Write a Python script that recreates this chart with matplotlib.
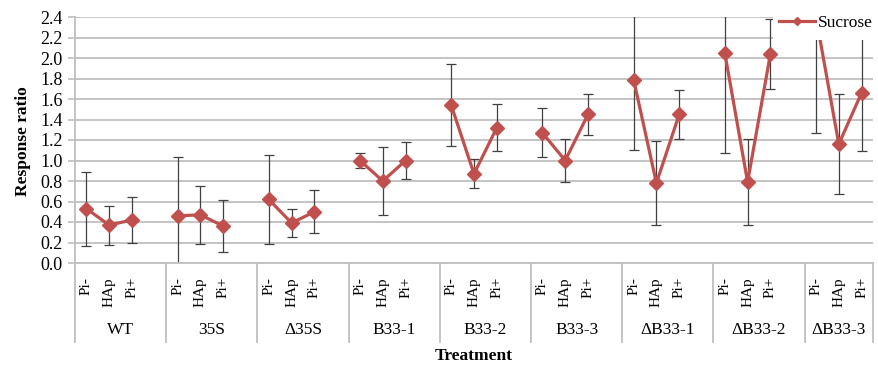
import numpy as np
import matplotlib
matplotlib.use("Agg")
import matplotlib.pyplot as plt
import matplotlib.transforms as mtransforms
from matplotlib.lines import Line2D
from matplotlib.patches import Rectangle

SERIF = "Liberation Serif"
plt.rcParams['font.family'] = SERIF

groups = ["WT", "35S", "Δ35S", "B33-1", "B33-2", "B33-3", "ΔB33-1", "ΔB33-2", "ΔB33-3"]
treatments = ["Pi-", "HAp", "Pi+"]

# response ratio per group (Pi-, HAp, Pi+)
sucrose = [
    [0.53, 0.37, 0.42],
    [0.46, 0.47, 0.36],
    [0.62, 0.39, 0.50],
    [1.00, 0.80, 1.00],
    [1.54, 0.87, 1.32],
    [1.27, 1.00, 1.45],
    [1.79, 0.78, 1.45],
    [2.05, 0.79, 2.04],
    [2.40, 1.16, 1.66],
]
sucrose_err = [
    [0.36, 0.19, 0.22],
    [0.57, 0.28, 0.25],
    [0.43, 0.14, 0.21],
    [0.07, 0.33, 0.18],
    [0.40, 0.14, 0.23],
    [0.24, 0.21, 0.20],
    [0.69, 0.41, 0.24],
    [0.98, 0.42, 0.34],
    [1.13, 0.49, 0.57],
]

red = "#C0504D"
grid_col = "#BFBFBF"

fig = plt.figure(figsize=(8.79, 3.67), dpi=100)
ax = fig.add_axes([75 / 879, 1 - 263 / 367, 798 / 879, 246 / 367])

# every group except the last has an empty slot after it
n_slots = len(groups) * 4 - 1
for g, name in enumerate(groups):
    xs = [g * 4 + j + 0.5 for j in range(len(treatments))]
    ax.errorbar(xs, sucrose[g], yerr=sucrose_err[g], fmt="none", ecolor="#404040",
                elinewidth=0.9, capsize=3.6, capthick=0.9, zorder=2)
    ax.plot(xs, sucrose[g], color=red, lw=2.3, marker="D", ms=7.3, zorder=3)

yt = np.arange(0, 2.41, 0.2)
ax.set_xlim(0, n_slots)
ax.set_ylim(0, 2.4)
ax.set_yticks(yt)
ax.set_yticklabels([f"{v:.1f}" for v in yt], fontsize=13, family=SERIF)
ax.set_xticks([])
ax.yaxis.grid(True, color=grid_col, lw=1.3)
ax.set_axisbelow(True)
for s in ["top", "right"]:
    ax.spines[s].set_visible(False)
for s in ["left", "bottom"]:
    ax.spines[s].set_color(grid_col)
    ax.spines[s].set_linewidth(1.3)
ax.tick_params(axis="y", length=5, color=grid_col, width=1.2, pad=4)

# category axis: rotated treatment labels, group names, separators
trans = mtransforms.blended_transform_factory(ax.transData, ax.transAxes)
for g, name in enumerate(groups):
    for j, t in enumerate(treatments):
        ax.text(g * 4 + j + 0.5, -14 / 246, t, transform=trans, rotation=90,
                ha="center", va="top", fontsize=11, family=SERIF)
    end = min(g * 4 + 4, n_slots)
    ax.text((g * 4 + end) / 2, -67 / 246, name, transform=trans,
            ha="center", va="center", fontsize=12.5, family=SERIF)
for xsep in list(range(0, n_slots, 4)) + [n_slots]:
    ax.add_line(Line2D([xsep, xsep], [0, -79 / 246], transform=trans,
                       color=grid_col, lw=1.3, clip_on=False))

fig.text(474 / 879, 1 - 356 / 367, "Treatment", ha="center", va="center",
         fontsize=12.5, fontweight="bold", family=SERIF)
fig.text(23 / 879, 1 - 141 / 367, "Response ratio", rotation=90, ha="center",
         va="center", fontsize=12.5, fontweight="bold", family=SERIF)

# legend sits on a white box over the top right of the plot
fig.add_artist(Rectangle((773 / 879, 1 - 39.5 / 367), 106 / 879, 39.5 / 367,
                         transform=fig.transFigure, facecolor="white",
                         edgecolor="none", zorder=5))
handle = Line2D([], [], color=red, lw=2.3, marker="D", ms=4.5)
leg = fig.legend([handle], ["Sucrose"], loc="center left",
                 bbox_to_anchor=(779 / 879, 1 - 23 / 367), frameon=False,
                 borderaxespad=0, borderpad=0, handlelength=2.1,
                 handletextpad=0.15, prop={"family": SERIF, "size": 12.5})
leg.set_zorder(6)

fig.savefig("out.png", dpi=100)
